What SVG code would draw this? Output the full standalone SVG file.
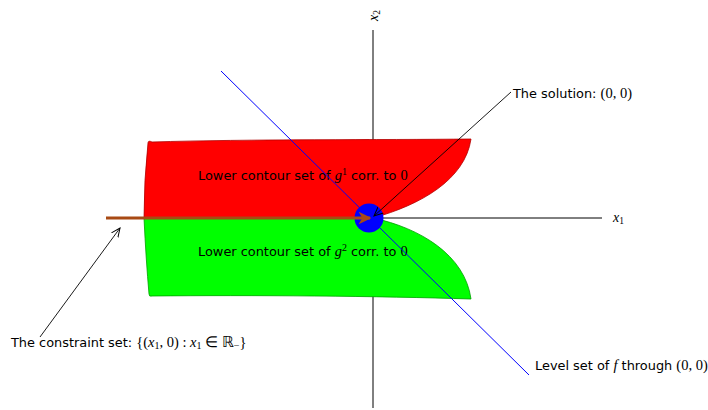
<svg xmlns="http://www.w3.org/2000/svg" width="708" height="410" viewBox="0 0 708 410">
<style>
.t{font-family:"DejaVu Sans","Liberation Sans",sans-serif;font-size:12.9px;fill:#000}
.m{font-family:"Liberation Serif",serif;font-style:italic;font-size:14.5px}
.u{font-family:"Liberation Serif",serif;font-style:normal;font-size:14.5px}
.s{font-family:"Liberation Serif",serif;font-style:normal;font-size:10px}
.ax{stroke:#000;stroke-width:1;fill:none}
</style>
<defs>
<marker id="ah" viewBox="0 0 10 10" refX="9" refY="5" markerWidth="10" markerHeight="10" markerUnits="userSpaceOnUse" orient="auto">
<path d="M0,1 L9,5 L0,9" fill="none" stroke="#000" stroke-width="1"/>
</marker>
<marker id="bh" viewBox="0 0 10 10" refX="9" refY="5" markerWidth="4" markerHeight="4" orient="auto">
<path d="M0,0 L10,5 L0,10 L3,5 Z" fill="#a84a14"/>
</marker>
</defs>
<g id="axes">
<line class="ax" x1="373" y1="30" x2="373" y2="408"/>
<line class="ax" x1="373" y1="218" x2="602" y2="218"/>
<text x="613" y="222"><tspan class="m" style="font-size:14px">x</tspan><tspan class="s" style="font-size:9.5px" dy="2">1</tspan></text>
<text transform="translate(378,21) rotate(-90)"><tspan class="m" style="font-size:14px">x</tspan><tspan class="s" style="font-size:9.5px" dy="2">2</tspan></text>
</g>
<g id="red-region">
<path d="M373,218 C420,205 465,180 471,139 C380,140 250,139 152,142 Q148,140 148,143 Q144,180 144,218 Z" fill="#ff0000" stroke="#b00000" stroke-width="0.8"/>
<text class="t" x="198" y="180">Lower contour set of <tspan class="m">g</tspan><tspan class="s" dy="-5">1</tspan><tspan dy="5"> corr. to </tspan><tspan class="u">0</tspan></text>
</g>
<g id="green-region">
<path d="M144,218 L373,218 C420,228 465,255 471,299 C380,296 250,295 152,296 Q149,297 149,294 Q146,260 144,218 Z" fill="#00ff00" stroke="#00a000" stroke-width="0.8"/>
<text class="t" x="198" y="256">Lower contour set of <tspan class="m">g</tspan><tspan class="s" dy="-5">2</tspan><tspan dy="5"> corr. to </tspan><tspan class="u">0</tspan></text>
</g>
<g id="connectors">
<line x1="221" y1="71" x2="529" y2="375" stroke="#0000ff" stroke-width="1"/>
<circle cx="369" cy="218" r="14.5" fill="#0000ff"/>
<line x1="106" y1="218" x2="370" y2="218" stroke="#a84a14" stroke-width="3.2" marker-end="url(#bh)"/>
<line x1="511" y1="92" x2="374" y2="216" stroke="#000" stroke-width="0.9" marker-end="url(#ah)"/>
<line x1="40" y1="337" x2="120" y2="228" stroke="#000" stroke-width="0.9" marker-end="url(#ah)"/>
</g>
<g id="labels">
<text class="t" x="513" y="98">The solution: <tspan class="u">(0, 0)</tspan></text>
<text class="t" x="11" y="347">The constraint set: <tspan class="u">{(</tspan><tspan class="m">x</tspan><tspan class="s" dy="2">1</tspan><tspan class="u" dy="-2">, 0) : </tspan><tspan class="m">x</tspan><tspan class="s" dy="2">1</tspan><tspan class="u" dy="-2"> ∈ ℝ</tspan><tspan class="s" dy="2">−</tspan><tspan class="u" dy="-2">}</tspan></text>
<text class="t" x="535" y="370">Level set of <tspan class="m">f</tspan> through <tspan class="u">(0, 0)</tspan></text>
</g>
</svg>
